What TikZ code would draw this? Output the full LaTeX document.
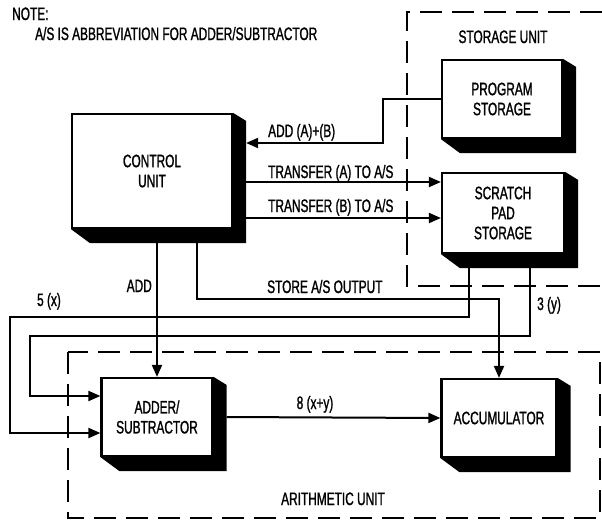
\documentclass[tikz,border=0pt]{standalone}
\usepackage{fontspec}
\newfontfamily\stencil[FakeStretch=0.66,FakeBold=1.2]{Liberation Sans}
\usepackage{tikz}
\usetikzlibrary{
    arrows.meta,
    calc
}
\tikzstyle{unit} = [
    rectangle,
    draw=black,
    line width=2.2pt,
    fill=white,
    inner sep=0pt,
    align=center,
    font=\stencil\fontsize{18}{20}\selectfont
]
\tikzstyle{tag} = [
    inner sep=0pt,
    font=\stencil\fontsize{18}{20}\selectfont
]
\tikzstyle{flow} = [
    -{Triangle[length=12pt,width=10pt]},
    line width=2pt
]
\tikzstyle{region} = [
    line width=2.4pt,
    dash pattern=on 22pt off 10pt
]
% black solid side of a block
\newcommand{\blockshade}[1]{%
    \fill (#1.north east) -- ++(13pt,-8pt) -- ([shift={(13pt,-14pt)}]#1.south east)
        -- ([shift={(19pt,-14pt)}]#1.south west) -- (#1.south west)
        -- (#1.south east) -- cycle;}

\begin{document}
\begin{tikzpicture}[x=1pt, y=-1pt]
        \useasboundingbox (0,0) rectangle (602,522);

        % Unit borders
        \draw[region] (602,12) -- (407,12) -- (407,286) -- (602,286);
        \draw[region] (68,352) rectangle (600,518);

        % Note
        \node[tag, anchor=base west] (notehead) at (12,20) {NOTE:};
        \node[tag, anchor=base west] (note) at (35,40) {A/S IS ABBREVIATION FOR ADDER/SUBTRACTOR};
        \node[tag, anchor=base] (storagelbl) at (503,43) {STORAGE UNIT};
        \node[tag, anchor=base] (arithlbl) at (333,505) {ARITHMETIC UNIT};

        % Blocks
        \node[unit, minimum width=160pt, minimum height=114pt] (ctrl) at (152,171) {CONTROL\\UNIT};
        \node[unit, minimum width=120pt, minimum height=78pt] (prog) at (502,99) {PROGRAM\\STORAGE};
        \node[unit, minimum width=122pt, minimum height=80pt] (scratch) at (503,213) {SCRATCH\\PAD\\STORAGE};
        \node[unit, minimum width=111pt, minimum height=78pt] (adder) at (157,417) {ADDER/\\SUBTRACTOR};
        \node[unit, minimum width=115pt, minimum height=78pt] (acc) at (499,418) {ACCUMULATOR};
        \blockshade{ctrl}
        \blockshade{prog}
        \blockshade{scratch}
        \blockshade{adder}
        \blockshade{acc}

        % Arrows
        \draw[flow] (prog.west) -- (383,99) -- (383,143) -- ([xshift=13pt]ctrl.east |- 0,143);
        \draw[flow] ([xshift=13pt]ctrl.east |- 0,182) -- (scratch.west |- 0,182);
        \draw[flow] ([xshift=13pt]ctrl.east |- 0,218) -- (scratch.west |- 0,218);
        \draw[flow] ([yshift=-14pt]ctrl.south -| adder.north) -- (adder.north);
        \draw[flow] ([yshift=-14pt]ctrl.south -| 197,0) -- (197,299) -- (acc.north |- 0,299) -- (acc.north);
        \draw[flow] ([yshift=-14pt]scratch.south -| 469,0) -- (469,317) -- (10,317) -- (10,433) -- (adder.west |- 0,433);
        \draw[flow] ([yshift=-14pt]scratch.south -| 530,0) -- (530,336) -- (30,336) -- (30,396) -- (adder.west |- 0,396);
        \draw[flow] ([xshift=13pt]adder.east) -- (acc.west);

        % Signal names
        \node[tag, anchor=base west] (addab) at (268,137) {ADD (A)+(B)};
        \node[tag, anchor=base west] (transa) at (268,178) {TRANSFER (A) TO A/S};
        \node[tag, anchor=base west] (transb) at (268,212) {TRANSFER (B) TO A/S};
        \node[tag, anchor=base east] (addcmd) at (152,292) {ADD};
        \node[tag, anchor=base west] (storecmd) at (267,293) {STORE A/S OUTPUT};
        \node[tag, anchor=base] (xval) at (49,306) {5 (x)};
        \node[tag, anchor=base west] (yval) at (537,310) {3 (y)};
        \node[tag, anchor=base] (sumval) at (315,409) {8 (x+y)};
    \end{tikzpicture}
\end{document}
